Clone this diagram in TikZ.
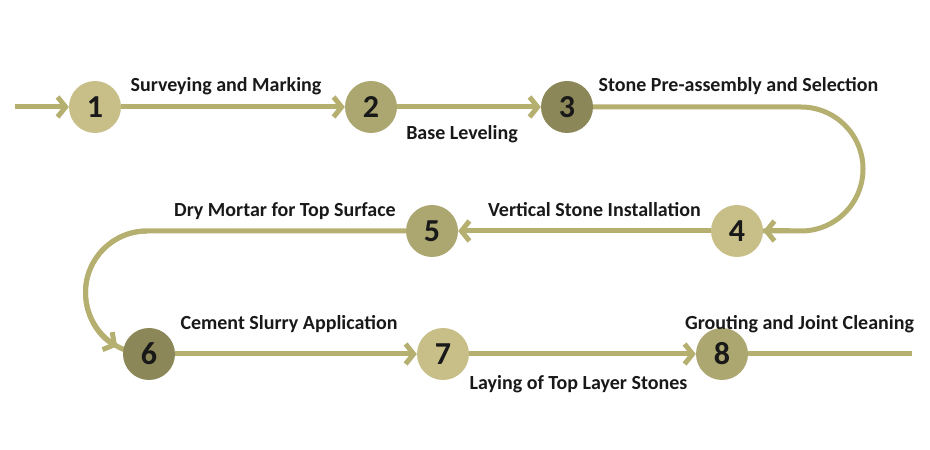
\documentclass[tikz,border=0pt]{standalone}
\usepackage{fontspec}
\setmainfont{Carlito}
\usetikzlibrary{arrows.meta}
\definecolor{linec}{RGB}{181,175,112}
\definecolor{lightc}{RGB}{200,191,136}
\definecolor{midc}{RGB}{172,167,112}
\definecolor{darkc}{RGB}{140,135,88}
\tikzset{
  flow/.style={draw=linec, line width=5pt},
  arr/.style={flow, -{Straight Barb[length=8pt,width=20pt]}},
  stepc/.style={circle, minimum size=52pt, inner sep=0pt,
    font=\fontsize{32}{34}\selectfont\bfseries, text=black!90},
  lbl/.style={inner sep=0pt, text height=0.64em, text depth=0pt,
    font=\fontsize{20}{23}\selectfont\bfseries, text=black!90},
}
\begin{document}
\begin{tikzpicture}[x=1pt,y=1pt]
\useasboundingbox (0,0) rectangle (930,450);
% nodes (placed first for names; circles filled later on top)
\coordinate (start) at (15,343);
\coordinate (stop) at (912,96);
\node[stepc] (c1) at (95,343) {};
\node[stepc] (c2) at (371,343) {};
\node[stepc] (c3) at (567,343) {};
\node[stepc] (c4) at (737,219) {};
\node[stepc] (c5) at (432,219) {};
\node[stepc] (c6) at (149,96) {};
\node[stepc] (c7) at (443,96) {};
\node[stepc] (c8) at (722,96) {};
% connectors
\draw[arr] (start) -- (c1.west);
\draw[arr] (c1.east) -- (c2.west);
\draw[arr] (c2.east) -- (c3.west);
\draw[flow] (c3.east) -- (801,343) arc[start angle=90,end angle=-90,radius=62] -- (c4.east);
\draw[arr] (790,219) -- (c4.east);
\draw[arr] (c4.west) -- (c5.east);
\draw[flow] (c5.west) -- (147,219) arc[start angle=90,end angle=250,radius=61.5];
\draw[arr] (147,219) arc[start angle=90,end angle=241,radius=61.5];
\draw[arr] (c6.east) -- (c7.west);
\draw[arr] (c7.east) -- (c8.west);
\draw[flow] (c8.east) -- (stop);
% circles on top
\node[stepc, fill=lightc] at (c1) {1};
\node[stepc, fill=midc] at (c2) {2};
\node[stepc, fill=darkc] at (c3) {3};
\node[stepc, fill=lightc] at (c4) {4};
\node[stepc, fill=midc] at (c5) {5};
\node[stepc, fill=darkc] at (c6) {6};
\node[stepc, fill=lightc] at (c7) {7};
\node[stepc, fill=midc] at (c8) {8};
% labels
\node[lbl] (l1) at (226,361.5) {Surveying and Marking};
\node[lbl] (l2) at (462,314) {Base Leveling};
\node[lbl] (l3) at (738.5,361.5) {Stone Pre-assembly and Selection};
\node[lbl] (l4) at (594.5,236.5) {Vertical Stone Installation};
\node[lbl] (l5) at (285,236.5) {Dry Mortar for Top Surface};
\node[lbl] (l6) at (289,123.5) {Cement Slurry Application};
\node[lbl] (l7) at (578.5,63.5) {Laying of Top Layer Stones};
\node[lbl] (l8) at (799.5,123.5) {Grouting and Joint Cleaning};
\end{tikzpicture}
\end{document}
